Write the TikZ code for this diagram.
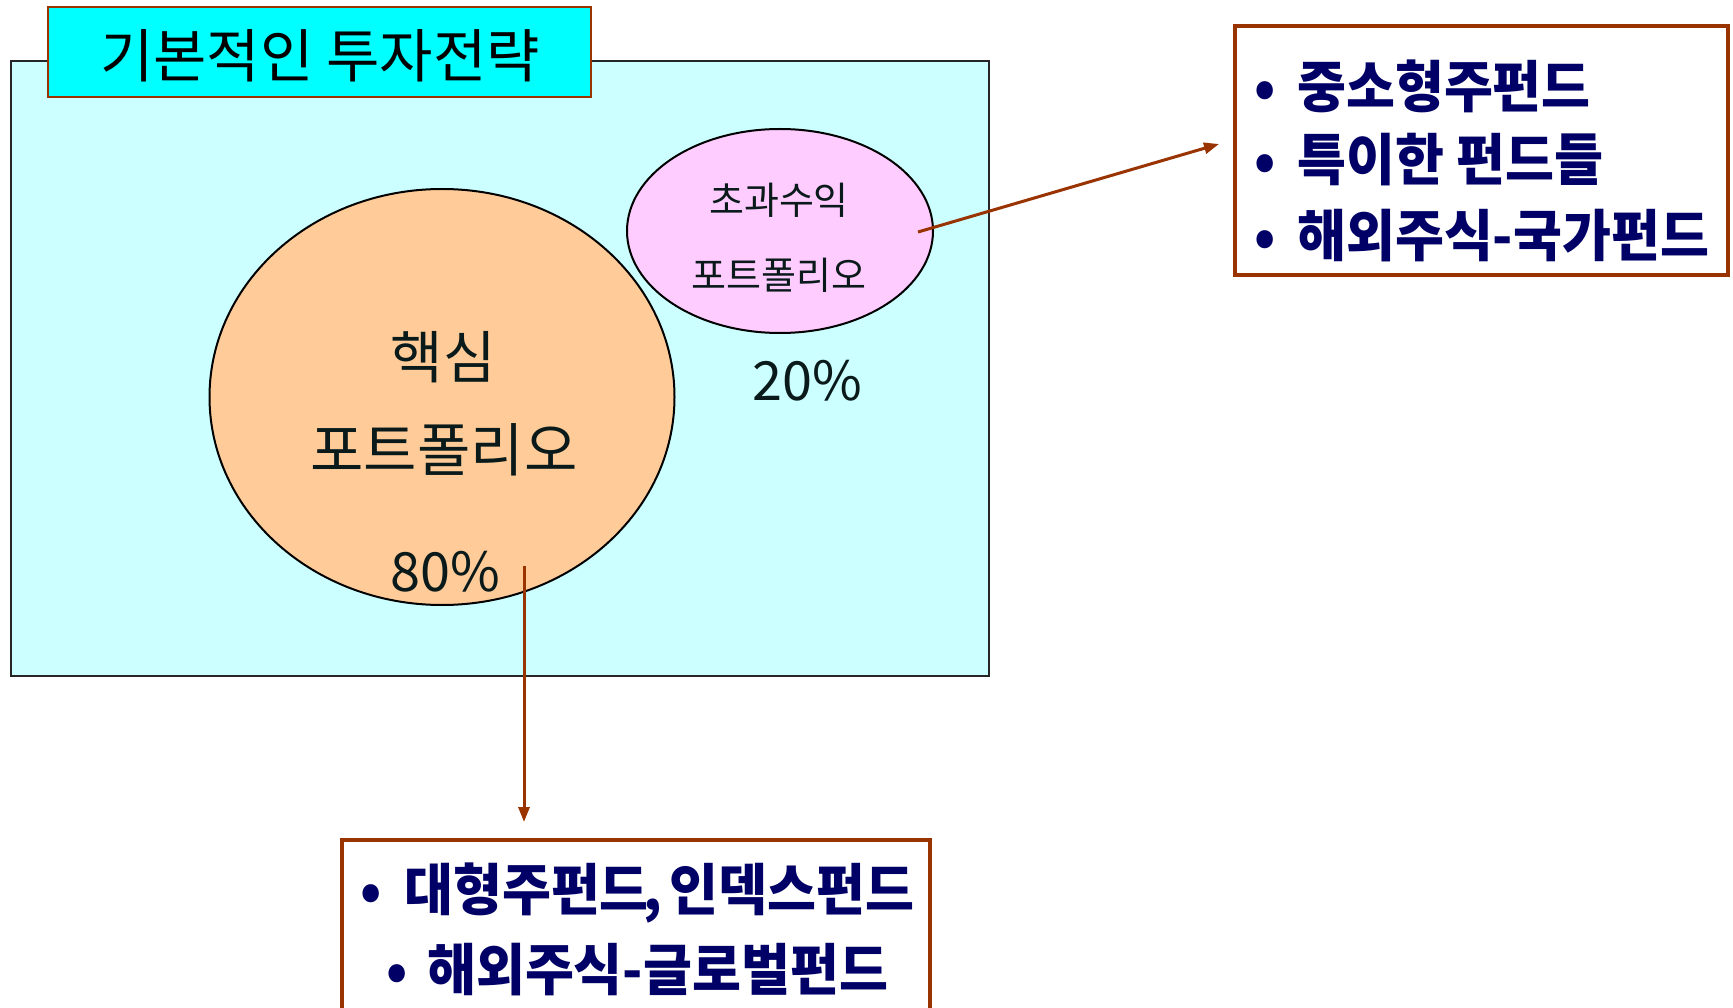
\documentclass[tikz,border=0pt]{standalone}
\usepackage{fontspec}
\setmainfont{Noto Sans CJK KR}
\newfontfamily\krb{Noto Sans CJK KR}[FakeStretch=0.95]
\usetikzlibrary{shapes.geometric,arrows.meta}
\definecolor{bgcyan}{HTML}{CCFFFF}
\definecolor{titlecyan}{HTML}{00FFFF}
\definecolor{coreorange}{HTML}{FFCC99}
\definecolor{pinkfill}{HTML}{FFCCFF}
\definecolor{arrowbrown}{HTML}{993300}
\definecolor{navytext}{HTML}{000066}
\definecolor{darktext}{HTML}{0A1A1A}
\begin{document}
\begin{tikzpicture}[x=1pt,y=-1pt,
  frame/.style={draw=black!85, line width=2pt, fill=bgcyan, inner sep=0pt},
  titlebox/.style={draw=arrowbrown, line width=2pt, fill=titlecyan, inner sep=0pt},
  blob/.style={ellipse, draw=black, line width=2pt, inner sep=0pt},
  listbox/.style={draw=arrowbrown, line width=3.5pt, fill=white, inner sep=0pt},
  conn/.style={draw=arrowbrown, line width=3pt, -{Triangle[length=15pt,width=11pt]}},
  lbl/.style={inner sep=0pt, anchor=center, text=darktext},
  item/.style={inner sep=0pt, anchor=west, text=navytext, font=\krb\bfseries\fontsize{56}{60}\selectfont}
]
\useasboundingbox (0,0) rectangle (1733,1008);
\fill[white] (0,0) rectangle (1733,1008);

% main frame and title
\node[frame, minimum width=978pt, minimum height=615pt] (frame) at (500,368.5) {};
\node[titlebox, minimum width=543pt, minimum height=90pt] (title) at (319,52) {};
\node[lbl, text=black, font=\fontsize{58}{64}\selectfont] (titletext) at (320,55.5) {기본적인 투자전략};

% ellipses
\node[blob, fill=coreorange, minimum width=465pt, minimum height=416pt] (core) at (442,397) {};
\node[blob, fill=pinkfill, minimum width=306pt, minimum height=204pt] (excess) at (780,231) {};

\node[lbl, font=\fontsize{57}{64}\selectfont] (core1) at (443,357.5) {핵심};
\node[lbl, font=\fontsize{58}{64}\selectfont] (core2) at (444,450) {포트폴리오};
\node[lbl, font=\fontsize{54}{60}\selectfont] (core3) at (445,572) {80\%};

\node[lbl, font=\fontsize{38}{44}\selectfont] (ex1) at (779,200) {초과수익};
\node[lbl, font=\fontsize{38}{44}\selectfont] (ex2) at (779,275) {포트폴리오};
\node[lbl, font=\fontsize{54}{60}\selectfont] (ex3) at (807,381) {20\%};

% list boxes
\node[listbox, minimum width=493pt, minimum height=249pt] (rightbox) at (1481.5,150.5) {};
\node[item] (r1) at (1265,86) {\makebox[0pt]{•}\hspace{32pt}중소형주펀드};
\node[item] (r2) at (1265,160) {\makebox[0pt]{•}\hspace{32pt}특이한 펀드들};
\node[item] (r3) at (1265,236) {\makebox[0pt]{•}\hspace{32pt}해외주식-국가펀드};

\node[listbox, minimum width=588pt, minimum height=180pt] (bottombox) at (636,930) {};
\node[item] (b1) at (371,893) {\makebox[0pt]{•}\hspace{33pt}대형주펀드\kern-5pt,\hspace{7pt}인덱스펀드};
\node[item] (b2) at (397,970) {\makebox[0pt]{•}\hspace{30pt}해외주식-글로벌펀드};

% connectors
\coordinate (a1s) at (918,232);
\coordinate (a1e) at (1219,144);
\coordinate (a2s) at (524,566);
\coordinate (a2e) at (524,822);
\draw[conn] (a1s) -- (a1e);
\draw[conn] (a2s) -- (a2e);
\end{tikzpicture}
\end{document}
